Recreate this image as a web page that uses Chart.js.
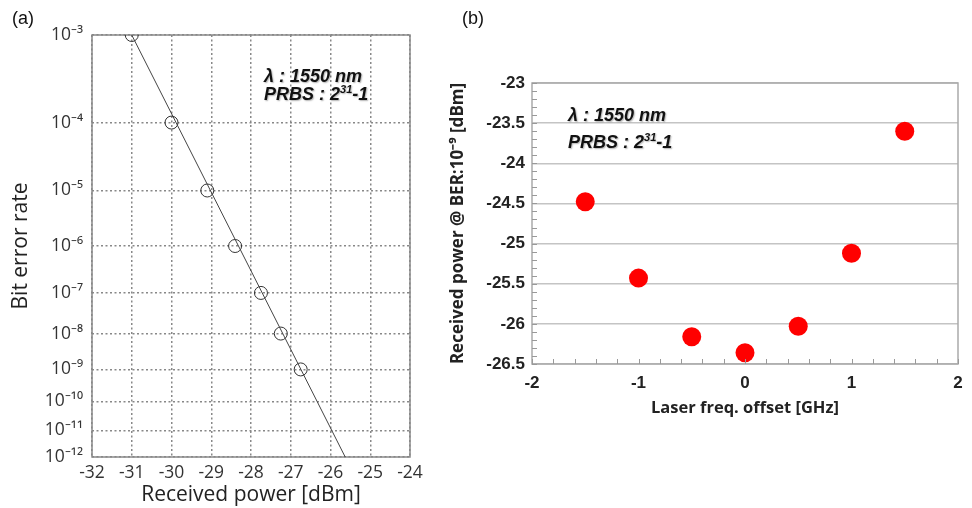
<!DOCTYPE html>
<html>
<head>
<meta charset="utf-8">
<script src="https://cdn.jsdelivr.net/npm/chart.js@4.4.1/dist/chart.umd.min.js"></script>
<style>
    html, body { margin: 0; padding: 0; background: #fff; }
    #wrap { position: relative; width: 972px; height: 508px; }
    canvas { position: absolute; top: 0; }
    #berChart { left: 0; }
    #offsetChart { left: 440px; }
</style>
</head>
<body>
<div id="wrap">
    <canvas id="berChart" width="432" height="508"></canvas>
    <canvas id="offsetChart" width="532" height="508"></canvas>
</div>
<script>
// (a) BER vs received power
const berPower = [-31.0, -30.0, -29.1, -28.4, -27.75, -27.25, -26.75];
const berValues = [1e-3, 1e-4, 1e-5, 1e-6, 1e-7, 1e-8, 1e-9];
const fitPower = [-31.0, -25.63];
const fitBer = [1e-3, 1e-12];
const berTickExps = [3, 4, 5, 6, 7, 8, 9, 10, 11, 12];
const powerTicks = [-32, -24];

// (b) received power at BER 1e-9 vs laser frequency offset
const freqOffset = [-1.5, -1, -0.5, 0, 0.5, 1, 1.5];
const rxPower = [-24.48, -25.43, -26.16, -26.36, -26.03, -25.12, -23.6];
const offsetRange = [-2, 2];
const rxRange = [-26.5, -23];

// BER axis is log(-log(BER)), like the usual BER paper
const berToAxis = (ber) => Math.log10(-Math.log10(ber));
const supDigits = { '0': '⁰', '1': '¹', '2': '²', '3': '³', '4': '⁴', '5': '⁵', '6': '⁶', '7': '⁷', '8': '⁸', '9': '⁹', '-': '⁻' };
const toSup = (s) => String(s).split('').map(c => supDigits[c] || c).join('');

// draws "λ : 1550 nm / PRBS : 2^31-1"
function drawConditions(ctx, x, y1, y2) {
    ctx.save();
    ctx.fillStyle = '#111';
    ctx.shadowColor = 'rgba(0,0,0,0.3)';
    ctx.shadowBlur = 1.5;
    ctx.shadowOffsetX = 1;
    ctx.shadowOffsetY = 1;
    ctx.textBaseline = 'alphabetic';
    ctx.textAlign = 'left';
    ctx.font = 'italic bold 18px "Liberation Sans", Arial, sans-serif';
    ctx.fillText('λ : 1550 nm', x, y1);
    const part1 = 'PRBS : 2';
    ctx.fillText(part1, x, y2);
    let cx = x + ctx.measureText(part1).width;
    ctx.font = 'italic bold 11px "Liberation Sans", Arial, sans-serif';
    ctx.fillText('31', cx, y2 - 7);
    cx += ctx.measureText('31').width;
    ctx.font = 'italic bold 18px "Liberation Sans", Arial, sans-serif';
    ctx.fillText('-1', cx, y2);
    ctx.restore();
}

function drawPanelLabel(ctx, text, x, y) {
    ctx.save();
    ctx.fillStyle = '#111';
    ctx.font = '18px "Liberation Sans", Arial, sans-serif';
    ctx.textBaseline = 'middle';
    ctx.fillText(text, x, y);
    ctx.restore();
}

const frameBorder = {
    id: 'frameBorder',
    beforeDatasetsDraw(chart, args, opts) {
        const a = chart.chartArea;
        const ctx = chart.ctx;
        ctx.save();
        ctx.strokeStyle = opts.color;
        ctx.lineWidth = opts.width;
        ctx.strokeRect(a.left, a.top, a.right - a.left, a.bottom - a.top);
        ctx.restore();
    }
};

Chart.defaults.font.family = "'Open Sans', sans-serif";
Chart.defaults.animation = false;

// ---------- left chart ----------
const berPoints = berPower.map((p, i) => ({ x: p, y: berToAxis(berValues[i]) }));
const fitPoints = fitPower.map((p, i) => ({ x: p, y: berToAxis(fitBer[i]) }));

new Chart(document.getElementById('berChart'), {
    type: 'scatter',
    data: {
        datasets: [
            {
                label: 'fit',
                data: fitPoints,
                showLine: true,
                borderColor: '#444',
                borderWidth: 1,
                pointRadius: 0
            },
            {
                label: 'BER',
                data: berPoints,
                pointStyle: 'circle',
                pointRadius: 6.5,
                pointBorderWidth: 1,
                pointBorderColor: '#333',
                pointBackgroundColor: 'rgba(0,0,0,0)'
            }
        ]
    },
    options: {
        responsive: false,
        devicePixelRatio: 1,
        layout: { padding: { left: 2, right: 22, top: 35, bottom: 0 } },
        plugins: {
            legend: { display: false },
            tooltip: { enabled: false },
            frameBorder: { color: '#888', width: 1.5 }
        },
        scales: {
            x: {
                type: 'linear',
                min: powerTicks[0],
                max: powerTicks[1],
                ticks: { stepSize: 1, color: '#333', font: { size: 17.5 }, padding: 6 },
                grid: { color: '#888', lineWidth: 1.5, drawTicks: false },
                border: { display: false, dash: [2, 2.5] },
                title: {
                    display: true,
                    text: 'Received power [dBm]',
                    color: '#222',
                    font: { size: 21 },
                    padding: { top: 0, bottom: 0 }
                },
                afterFit: (scale) => { scale.height = 51; }
            },
            y: {
                type: 'linear',
                reverse: true,
                min: Math.log10(berTickExps[0]),
                max: Math.log10(berTickExps[berTickExps.length - 1]),
                afterBuildTicks: (scale) => {
                    scale.ticks = berTickExps.map(e => ({ value: Math.log10(e) }));
                },
                ticks: {
                    color: '#333',
                    font: { size: 17.5 },
                    padding: 9,
                    callback: (value) => '10' + toSup('-' + Math.round(Math.pow(10, value)))
                },
                grid: { color: '#888', lineWidth: 1.5, drawTicks: false },
                border: { display: false, dash: [2, 2.5] },
                title: {
                    display: true,
                    text: 'Bit error rate',
                    color: '#222',
                    font: { size: 21 },
                    padding: { top: 6, bottom: 0 }
                },
                afterFit: (scale) => { scale.width = 90; }
            }
        }
    },
    plugins: [frameBorder, {
        id: 'berText',
        afterDraw(chart) {
            drawConditions(chart.ctx, chart.chartArea.left + 172, 82, 100);
            drawPanelLabel(chart.ctx, '(a)', 12, 19);
        }
    }]
});

// ---------- right chart ----------
const offsetPoints = freqOffset.map((f, i) => ({ x: f, y: rxPower[i] }));

const minorTicks = {
    id: 'minorTicks',
    afterDatasetsDraw(chart) {
        const ctx = chart.ctx;
        const xs = chart.scales.x;
        const ys = chart.scales.y;
        const a = chart.chartArea;
        ctx.save();
        ctx.strokeStyle = '#999';
        ctx.lineWidth = 1;
        ctx.beginPath();
        for (let i = 0; i <= 35; i++) {
            const py = Math.round(ys.getPixelForValue(rxRange[0] + i * 0.1)) + 0.5;
            ctx.moveTo(a.left, py);
            ctx.lineTo(a.left + 5, py);
        }
        for (let i = 0; i <= 20; i++) {
            const px = Math.round(xs.getPixelForValue(offsetRange[0] + i * 0.2)) + 0.5;
            ctx.moveTo(px, a.bottom);
            ctx.lineTo(px, a.bottom - 5);
        }
        ctx.stroke();
        ctx.restore();
    }
};

const boldTickFont = { size: 17, weight: 'bold', family: "'Liberation Sans', Arial, sans-serif" };

new Chart(document.getElementById('offsetChart'), {
    type: 'scatter',
    data: {
        datasets: [{
            label: 'Received power',
            data: offsetPoints,
            pointRadius: 9.5,
            pointBorderWidth: 0,
            pointBackgroundColor: '#ff0000',
            pointBorderColor: '#ff0000'
        }]
    },
    options: {
        responsive: false,
        devicePixelRatio: 1,
        layout: { padding: { left: 2, right: 14, top: 83, bottom: 90 } },
        plugins: {
            legend: { display: false },
            tooltip: { enabled: false },
            frameBorder: { color: '#aaa', width: 1.5 }
        },
        scales: {
            x: {
                type: 'linear',
                min: offsetRange[0],
                max: offsetRange[1],
                ticks: { stepSize: 1, color: '#222', font: boldTickFont, padding: 9 },
                grid: { display: false, drawTicks: false },
                border: { display: false },
                title: {
                    display: true,
                    text: 'Laser freq. offset [GHz]',
                    color: '#222',
                    font: { size: 16.5, weight: 'bold' },
                    padding: { top: 0, bottom: 0 }
                },
                afterFit: (scale) => { scale.height = 54; }
            },
            y: {
                type: 'linear',
                min: rxRange[0],
                max: rxRange[1],
                ticks: {
                    stepSize: 0.5,
                    color: '#222',
                    font: boldTickFont,
                    padding: 7,
                    callback: (value) => String(Number(value.toFixed(1)))
                },
                grid: { color: '#c4c4c4', lineWidth: 1.5, drawTicks: false },
                border: { display: false },
                title: {
                    display: true,
                    text: 'Received power @ BER:10⁻⁹ [dBm]',
                    color: '#222',
                    font: { size: 17, weight: 'bold' },
                    padding: { top: 6, bottom: 0 }
                },
                afterFit: (scale) => { scale.width = 90; }
            }
        }
    },
    plugins: [frameBorder, minorTicks, {
        id: 'offsetText',
        afterDraw(chart) {
            drawConditions(chart.ctx, chart.chartArea.left + 36, 121, 148);
            drawPanelLabel(chart.ctx, '(b)', 22, 19);
        }
    }]
});
</script>
</body>
</html>
